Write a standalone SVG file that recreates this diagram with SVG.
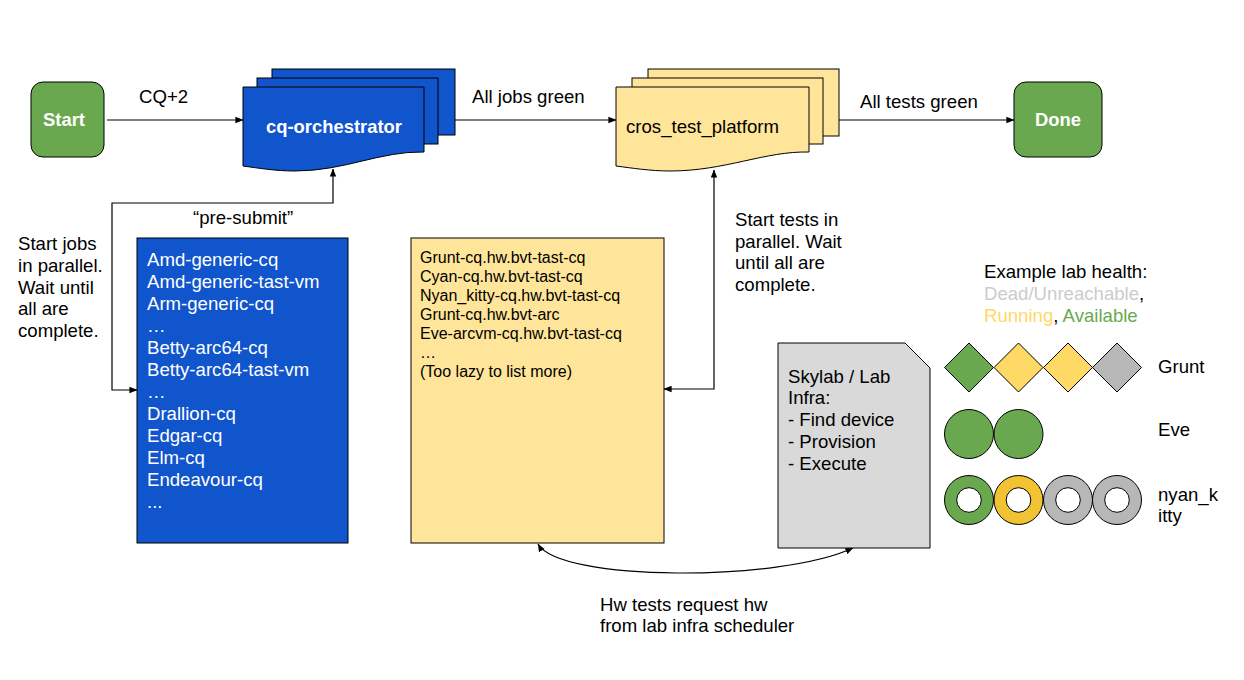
<svg xmlns="http://www.w3.org/2000/svg" width="1244" height="680" viewBox="0 0 1244 680">
<defs>
<marker id="arr" viewBox="0 0 10 10" refX="9.5" refY="5" markerWidth="8" markerHeight="8" markerUnits="userSpaceOnUse" orient="auto-start-reverse">
<path d="M0,1 L10,5 L0,9 Z" fill="#000"/>
</marker>
</defs>
<style>
text{font-family:"Liberation Sans",Arial,sans-serif;font-size:18.6px;fill:#000}
.w{fill:#fff}
.b{font-weight:bold;font-size:18.4px}
.sm{font-size:16px}
.ln{fill:none;stroke:#000;stroke-width:1.2}
.blue{fill:#1155cc;stroke:#000;stroke-width:1}
.yel{fill:#ffe599;stroke:#000;stroke-width:1}
.grn{fill:#6aa84f;stroke:#000;stroke-width:1}
.sh{stroke:#000;stroke-width:1}
</style>
<rect width="1244" height="680" fill="#fff"/>

<g id="connectors">
<path class="ln" d="M107,120 H243" marker-end="url(#arr)"/>
<path class="ln" d="M455,120 H616" marker-end="url(#arr)"/>
<path class="ln" d="M839,120 H1014" marker-end="url(#arr)"/>
<path class="ln" d="M137,390 H112 V203 H333 V169" marker-start="url(#arr)" marker-end="url(#arr)"/>
<path class="ln" d="M664,389 H714 V170" marker-start="url(#arr)" marker-end="url(#arr)"/>
<path class="ln" d="M538,544 C560,582 780,582 853,548" marker-start="url(#arr)" marker-end="url(#arr)"/>
<text x="139" y="103">CQ+2</text>
<text x="472" y="103">All jobs green</text>
<text x="860" y="108">All tests green</text>
<text x="193" y="224">“pre-submit”</text>
<text x="18" y="250">Start jobs</text>
<text x="18" y="272">in parallel.</text>
<text x="18" y="294">Wait until</text>
<text x="18" y="315">all are</text>
<text x="18" y="337">complete.</text>
<text x="735" y="226">Start tests in</text>
<text x="735" y="248">parallel. Wait</text>
<text x="735" y="269">until all are</text>
<text x="735" y="291">complete.</text>
<text x="600" y="611">Hw tests request hw</text>
<text x="600" y="632">from lab infra scheduler</text>
</g>

<g id="start">
<rect class="grn" x="31" y="82" width="73" height="75" rx="12"/>
<text class="w b" x="64" y="126" text-anchor="middle">Start</text>
</g>

<g id="cq-orchestrator">
<rect class="blue" x="272" y="69" width="183" height="66"/>
<rect class="blue" x="257" y="78" width="181" height="66"/>
<path class="blue" d="M243,87 H424 V152 C380,151 345,171 295,171 C275,171 258,168 243,166 Z"/>
<text class="w b" x="334" y="133" text-anchor="middle">cq-orchestrator</text>
</g>

<g id="cros-test-platform">
<rect class="yel" x="648" y="69" width="191" height="67"/>
<rect class="yel" x="632" y="78" width="191" height="66"/>
<path class="yel" d="M616,87 H809 V152 C765,151 725,171 670,171 C650,171 632,168 616,166 Z"/>
<text x="626" y="133">cros_test_platform</text>
</g>

<g id="done">
<rect class="grn" x="1014" y="82" width="88" height="75" rx="12"/>
<text class="w b" x="1058" y="126" text-anchor="middle">Done</text>
</g>

<g id="presubmit-list">
<rect class="blue" x="137" y="238" width="211" height="305"/>
<text class="w" x="147" y="266">Amd-generic-cq</text>
<text class="w" x="147" y="288">Amd-generic-tast-vm</text>
<text class="w" x="147" y="310">Arm-generic-cq</text>
<text class="w" x="147" y="332">…</text>
<text class="w" x="147" y="354">Betty-arc64-cq</text>
<text class="w" x="147" y="376">Betty-arc64-tast-vm</text>
<text class="w" x="147" y="398">…</text>
<text class="w" x="147" y="420">Drallion-cq</text>
<text class="w" x="147" y="442">Edgar-cq</text>
<text class="w" x="147" y="464">Elm-cq</text>
<text class="w" x="147" y="486">Endeavour-cq</text>
<text class="w" x="147" y="508">...</text>
</g>

<g id="test-list">
<rect class="yel" x="411" y="238" width="253" height="305"/>
<text class="sm" x="420" y="263">Grunt-cq.hw.bvt-tast-cq</text>
<text class="sm" x="420" y="282">Cyan-cq.hw.bvt-tast-cq</text>
<text class="sm" x="420" y="301">Nyan_kitty-cq.hw.bvt-tast-cq</text>
<text class="sm" x="420" y="320">Grunt-cq.hw.bvt-arc</text>
<text class="sm" x="420" y="339">Eve-arcvm-cq.hw.bvt-tast-cq</text>
<text class="sm" x="420" y="358">…</text>
<text class="sm" x="420" y="377">(Too lazy to list more)</text>
</g>

<g id="skylab">
<path d="M778,343 H905 L930,368 V548 H778 Z" fill="#d9d9d9" stroke="#000" stroke-width="1"/>
<text x="788" y="383">Skylab / Lab</text>
<text x="788" y="404">Infra:</text>
<text x="788" y="426">- Find device</text>
<text x="788" y="448">- Provision</text>
<text x="788" y="470">- Execute</text>
</g>

<g id="legend">
<text x="984" y="278">Example lab health:</text>
<text x="984" y="300"><tspan fill="#cccccc">Dead/Unreachable</tspan>,</text>
<text x="984" y="322"><tspan fill="#ffd966">Running</tspan>, <tspan fill="#6aa84f">Available</tspan></text>
</g>

<g id="grunt">
<path class="sh" fill="#6aa84f" d="M969,343 L993.5,367.5 L969,392 L944.5,367.5 Z"/>
<path class="sh" fill="#ffd966" d="M1018.5,343 L1043,367.5 L1018.5,392 L994,367.5 Z"/>
<path class="sh" fill="#ffd966" d="M1068,343 L1092.5,367.5 L1068,392 L1043.5,367.5 Z"/>
<path class="sh" fill="#b7b7b7" d="M1117,343 L1141.5,367.5 L1117,392 L1092.5,367.5 Z"/>
<text x="1158" y="373">Grunt</text>
</g>

<g id="eve">
<circle class="sh" fill="#6aa84f" cx="969" cy="434" r="24.5"/>
<circle class="sh" fill="#6aa84f" cx="1018.5" cy="434" r="24.5"/>
<text x="1158" y="436">Eve</text>
</g>

<g id="nyan-kitty">
<circle class="sh" fill="#6aa84f" cx="969" cy="500" r="24.5"/>
<circle class="sh" fill="#fff" cx="969" cy="500" r="12.3"/>
<circle class="sh" fill="#f1c232" cx="1018.5" cy="500" r="24.5"/>
<circle class="sh" fill="#fff" cx="1018.5" cy="500" r="12.3"/>
<circle class="sh" fill="#b7b7b7" cx="1068" cy="500" r="24.5"/>
<circle class="sh" fill="#fff" cx="1068" cy="500" r="12.3"/>
<circle class="sh" fill="#b7b7b7" cx="1117" cy="500" r="24.5"/>
<circle class="sh" fill="#fff" cx="1117" cy="500" r="12.3"/>
<text x="1158" y="501">nyan_k</text>
<text x="1158" y="522">itty</text>
</g>
</svg>
